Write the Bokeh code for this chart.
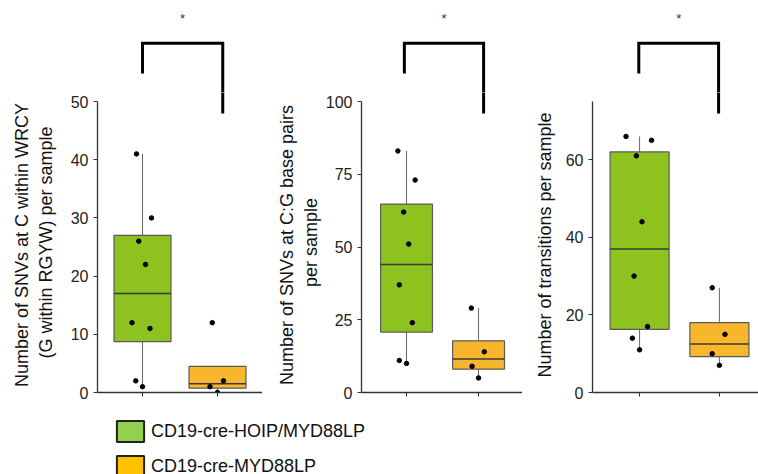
import numpy as np
from bokeh.plotting import figure
from bokeh.layouts import row, column
from bokeh.models import FixedTicker, Range1d, Legend, LegendItem
from bokeh.core.properties import value
from bokeh.embed import file_html
from bokeh.resources import INLINE

# ---------------- data ----------------
groups = ["CD19-cre-HOIP/MYD88LP", "CD19-cre-MYD88LP"]

wrcy_hoip = [41, 30, 26, 22, 12, 11, 2, 1]
wrcy_myd = [12, 2, 1, 0]
cg_hoip = [83, 73, 62, 51, 37, 24, 11, 10]
cg_myd = [29, 14, 9, 5]
trans_hoip = [66, 65, 61, 44, 30, 17, 14, 11]
trans_myd = [27, 15, 10, 7]

# horizontal jitter of the dots (in group units)
wrcy_hoip_jit = [-0.08, 0.12, -0.05, 0.04, -0.14, 0.10, -0.09, 0.0]
wrcy_myd_jit = [-0.07, 0.08, -0.10, 0.0]
cg_hoip_jit = [-0.12, 0.12, -0.04, 0.03, -0.10, 0.08, -0.10, 0.0]
cg_myd_jit = [-0.10, 0.08, -0.09, 0.0]
trans_hoip_jit = [-0.17, 0.15, -0.04, 0.03, -0.07, 0.10, -0.09, 0.0]
trans_myd_jit = [-0.09, 0.07, -0.09, 0.0]

y_labels = [
    "Number of  SNVs at C within WRCY\n(G within RGYW) per sample",
    "Number of  SNVs at C:G base pairs\nper sample",
    "Number of  transitions per sample",
]
y_tops = [50, 100, 75]
y_ticks = [[0, 10, 20, 30, 40, 50], [0, 25, 50, 75, 100], [0, 20, 40, 60]]
significance = ["*", "*", "*"]

# ---------------- style / layout ----------------
box_colors = ["#8DC21F", "#F8B62D"]
legend_colors = ["#92D050", "#FFC000"]
FONT = "Liberation Sans"
AXIS_PX = 291.0      # pixel length of the drawn y axis (0 .. top)
SPLIT = 92           # page row where the upper (bracket) strip ends
BOTTOM_FRAME = 392   # page row of the x axis
H_TOP = SPLIT
H_BOT = BOTTOM_FRAME - SPLIT + 18
panel_widths = [262, 260, 236]
panel_left = [97, 99, 70]
x_ranges = [(0.4, 2.6), (0.375, 2.61), (0.41, 2.49)]
box_widths = [0.76, 0.72, 0.74]
label_standoffs = [12, 2, 8]
bracket_x = [(1.0, 2.07), (0.97, 2.07), (0.99, 1.99)]

panels = [
    (wrcy_hoip, wrcy_myd, wrcy_hoip_jit, wrcy_myd_jit),
    (cg_hoip, cg_myd, cg_hoip_jit, cg_myd_jit),
    (trans_hoip, trans_myd, trans_hoip_jit, trans_myd_jit),
]


def box_stats(v):
    v = np.asarray(v, dtype=float)
    q1, med, q3 = np.percentile(v, [25, 50, 75])
    iqr = q3 - q1
    lo = v[v >= q1 - 1.5 * iqr].min()
    hi = v[v <= q3 + 1.5 * iqr].max()
    return q1, med, q3, lo, hi


def draw_bracket(p, i, top):
    bx0, bx1 = bracket_x[i]
    p.line(x=[bx0, bx0, bx1, bx1],
           y=[top * 1.096, top * 1.2, top * 1.2, top * 0.959],
           line_color="black", line_width=3, line_join="miter")


top_figs, bot_figs = [], []
for i, (a, b, ja, jb) in enumerate(panels):
    top = y_tops[i]
    split_val = top * (BOTTOM_FRAME - SPLIT) / AXIS_PX
    end_val = top * BOTTOM_FRAME / AXIS_PX

    # ---- upper strip: significance bracket and star (same scales) ----
    pt = figure(width=panel_widths[i], height=H_TOP,
                x_range=Range1d(*x_ranges[i]), y_range=Range1d(split_val, end_val),
                output_backend="svg", toolbar_location=None,
                x_axis_type=None, y_axis_type=None,
                min_border_left=panel_left[i], min_border_right=0,
                min_border_top=0, min_border_bottom=0)
    pt.outline_line_color = None
    pt.xgrid.visible = False
    pt.ygrid.visible = False
    draw_bracket(pt, i, top)
    bx0, bx1 = bracket_x[i]
    pt.text(x=[(bx0 + bx1) / 2], y=[top * 1.285], text=[significance[i]],
            text_align="center", text_baseline="middle",
            text_font=value(FONT), text_font_size="13px", text_color="#333333")
    top_figs.append(pt)

    # ---- main panel ----
    p = figure(width=panel_widths[i], height=H_BOT,
               x_range=pt.x_range, y_range=Range1d(0, split_val),
               output_backend="svg", toolbar_location=None,
               min_border_left=panel_left[i], min_border_right=0,
               min_border_top=0, min_border_bottom=18)
    p.outline_line_color = None
    p.xgrid.visible = False
    p.ygrid.visible = False

    draw_bracket(p, i, top)   # lower end of the right leg falls in this panel

    w = box_widths[i]
    for k, (vals, jit) in enumerate([(a, ja), (b, jb)]):
        pos = k + 1
        q1, med, q3, lo, hi = box_stats(vals)
        p.segment(x0=[pos, pos], x1=[pos, pos], y0=[q3, q1], y1=[hi, lo],
                  line_color="#666666", line_width=1)
        p.vbar(x=[pos], width=w, top=[q3], bottom=[q1],
               fill_color=box_colors[k], line_color="#5a5a5a", line_width=1.2)
        p.segment(x0=[pos - w / 2], x1=[pos + w / 2], y0=[med], y1=[med],
                  line_color="#3a3a3a", line_width=1.5)
        p.scatter(x=[pos + j for j in jit], y=vals, size=4.5,
                  fill_color="black", line_color="black")

    ya = p.yaxis[0]
    ya.bounds = (0, top)
    ya.ticker = FixedTicker(ticks=y_ticks[i])
    ya.major_tick_out = 4
    ya.major_tick_in = 0
    ya.minor_tick_line_color = None
    ya.axis_line_color = "#333333"
    ya.axis_line_width = 1.3
    ya.major_tick_line_color = "#333333"
    ya.major_label_text_font = FONT
    ya.major_label_text_font_size = "16px"
    ya.major_label_text_color = "#222222"
    ya.axis_label = y_labels[i]
    ya.axis_label_text_font = FONT
    ya.axis_label_text_font_size = "18px"
    ya.axis_label_text_font_style = "normal"
    ya.axis_label_text_color = "#111111"
    ya.axis_label_standoff = label_standoffs[i]

    xa = p.xaxis[0]
    xa.ticker = FixedTicker(ticks=[1, 2])
    xa.major_label_overrides = {1: "", 2: ""}
    xa.major_label_text_font_size = "1px"
    xa.major_tick_out = 4
    xa.major_tick_in = 0
    xa.minor_tick_line_color = None
    xa.axis_line_color = "#333333"
    xa.axis_line_width = 1.3
    xa.major_tick_line_color = "#333333"
    bot_figs.append(p)

# ---------------- legend strip ----------------
lf = figure(width=758, height=474 - H_TOP - H_BOT, x_range=Range1d(0, 1), y_range=Range1d(0, 1),
            output_backend="svg", toolbar_location=None,
            min_border=0, x_axis_type=None, y_axis_type=None)
lf.outline_line_color = None
lf.xgrid.visible = False
lf.ygrid.visible = False
items = []
for k, g in enumerate(groups):
    # swatch renderer kept outside the visible range: only its legend entry shows
    r = lf.quad(left=[2], right=[3], top=[3], bottom=[2],
                fill_color=legend_colors[k], line_color="#222222", line_width=2)
    items.append(LegendItem(label=g, renderers=[r]))
leg = Legend(items=items, location=(113, -5), orientation="vertical",
             glyph_width=34, glyph_height=26, label_height=26, spacing=9,
             padding=0, margin=0, border_line_alpha=0, background_fill_alpha=0,
             label_text_font=FONT, label_text_font_size="18px",
             label_text_color="#111111", label_standoff=4)
lf.add_layout(leg)

layout = column(row(*top_figs, spacing=0), row(*bot_figs, spacing=0), lf, spacing=0)
open("out.html", "w").write(file_html(layout, INLINE))
